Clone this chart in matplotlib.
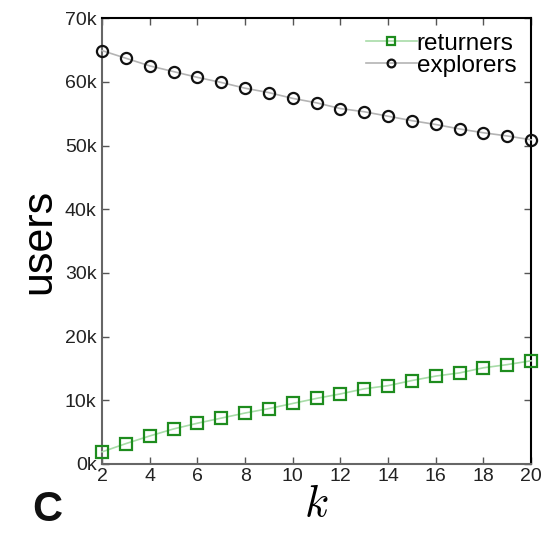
import matplotlib
matplotlib.use("Agg")
import matplotlib.pyplot as plt
from matplotlib.ticker import FuncFormatter

k = list(range(2, 21))
returners = [1.9, 3.2, 4.4, 5.5, 6.4, 7.2, 8.0, 8.7, 9.5, 10.3, 11.0, 11.8, 12.3, 13.1, 13.8, 14.3, 15.1, 15.6, 16.2]
explorers = [64.9, 63.7, 62.5, 61.6, 60.7, 59.9, 59.0, 58.3, 57.4, 56.7, 55.8, 55.3, 54.6, 53.9, 53.3, 52.6, 52.0, 51.5, 50.9]
xticks = [2, 4, 6, 8, 10, 12, 14, 16, 18, 20]
yticks = [0, 10, 20, 30, 40, 50, 60, 70]

plt.rcParams['font.family'] = ['Liberation Sans', 'DejaVu Sans']
plt.rcParams['mathtext.fontset'] = 'cm'

fig = plt.figure(figsize=(5.43, 5.33), dpi=100)
ax = fig.add_axes([0.188, 0.1295, 0.790, 0.8365])

ax.plot(k, returners, color='#a8dca8', lw=1.2, marker='s', markersize=8,
        markerfacecolor='none', markeredgecolor='#1e8c1e', markeredgewidth=1.6,
        label='returners', clip_on=False, zorder=3)
ax.plot(k, explorers, color='#b4b4b4', lw=1.2, marker='o', markersize=8,
        markerfacecolor='none', markeredgecolor='#111111', markeredgewidth=1.6,
        label='explorers', clip_on=False, zorder=3)

ax.set_xlim(2, 20)
ax.set_ylim(0, 70)
ax.set_xticks(xticks)
ax.set_yticks(yticks)
ax.yaxis.set_major_formatter(FuncFormatter(lambda v, p: f"{int(v)}k"))
ax.tick_params(direction='in', top=True, right=True, length=5, width=1,
               labelsize=14, color='#555555', labelcolor='#222222')
ax.tick_params(axis='y', pad=4)
ax.tick_params(axis='x', pad=3)
for s in ['left', 'bottom']:
    ax.spines[s].set_color('#666666')
    ax.spines[s].set_linewidth(1.5)
for s in ['top', 'right']:
    ax.spines[s].set_color('#000000')
    ax.spines[s].set_linewidth(1.5)

ax.set_ylabel('users', fontsize=31, labelpad=4)
ax.set_xlabel('$k$', fontsize=32, labelpad=-1)

leg = ax.legend(loc='upper right', frameon=False, fontsize=17.5,
                handlelength=2.1, handletextpad=0.0, borderaxespad=0.3,
                labelspacing=0.0, markerscale=0.7, borderpad=0.3)

fig.text(0.06, 0.022, 'C', fontsize=30, fontweight='bold', color='#111111')

fig.savefig('out.png', dpi=100)
